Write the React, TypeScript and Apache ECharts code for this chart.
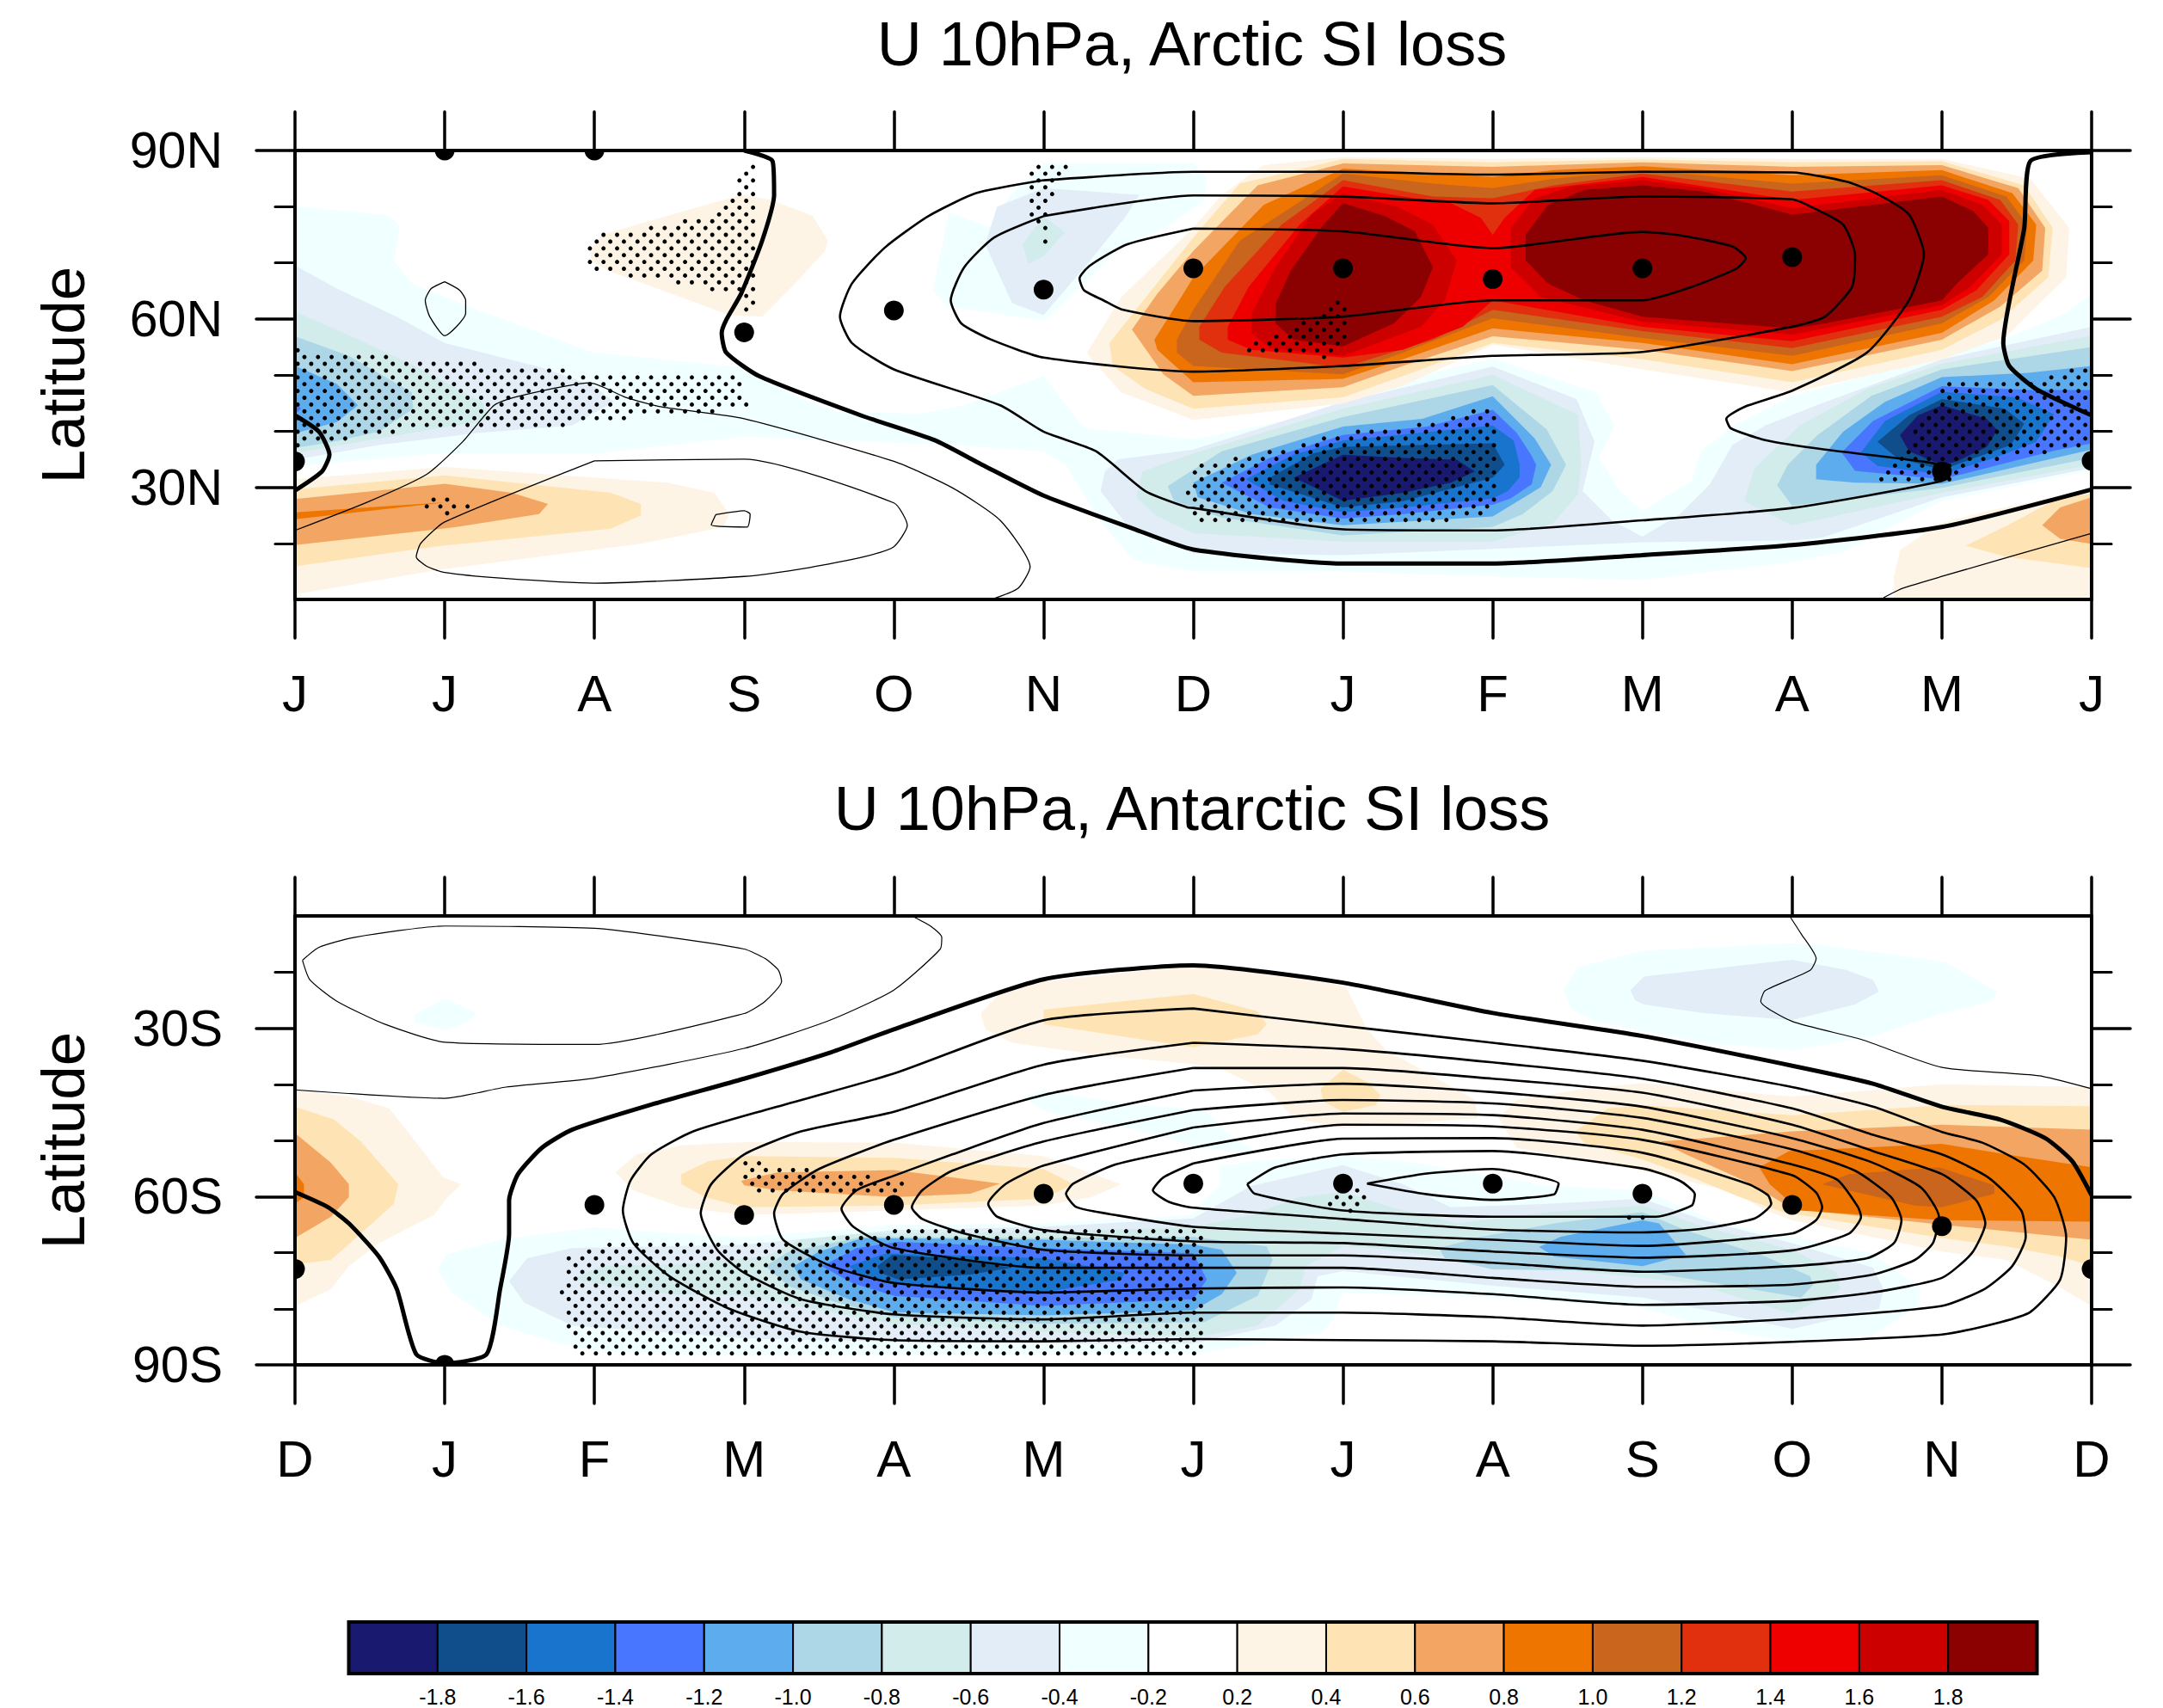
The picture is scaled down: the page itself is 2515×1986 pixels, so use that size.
import React, { useEffect, useRef } from "react";
import * as echarts from "echarts";

type Pt = number[];
type Poly = Pt[];

const FONT = "Liberation Sans";
const arcticMonths = ["J", "J", "A", "S", "O", "N", "D", "J", "F", "M", "A", "M", "J"];
const antarcticMonths = ["D", "J", "F", "M", "A", "M", "J", "J", "A", "S", "O", "N", "D"];
const colorbarLabels = ["-1.8", "-1.6", "-1.4", "-1.2", "-1.0", "-0.8", "-0.6", "-0.4", "-0.2", "0.2", "0.4", "0.6", "0.8", "1.0", "1.2", "1.4", "1.6", "1.8"];
const colorbarColors = ["#191970", "#104e8b", "#1874cd", "#4876ff", "#5cacee", "#add6e6", "#d1eceb", "#e2edf7", "#f0ffff", "#ffffff", "#fdf4e5", "#fee4b4", "#f3a563", "#ee7600", "#c9651d", "#e0300e", "#ee0000", "#cd0000", "#8b0000"];
const [N9, N8, N7, N6, N5, N4, N3, N2, N1, , P1, P2, P3, P4, P5, P6, P7, P8, P9] = colorbarColors;

// ---------- Arctic panel: shading polygons [month index, latitude]
const arcticN1: Poly[] = [
  [[0, 80], [0.62, 78.5], [0.7, 76.5], [0.66, 70.4], [0.78, 66.3], [1.16, 62.2], [1.99, 54], [3, 51.3], [3.38, 45.7], [3.62, 43.4], [4.19, 43.1], [4.47, 44.6], [5, 49.8], [5.27, 40.5], [6, 38.5], [7, 44], [7.56, 50.1], [8, 52.9], [8.69, 46.9], [8.81, 41], [8.71, 35.2], [8.85, 29.3], [9, 25.8], [9.33, 31.1], [9.39, 36.4], [9.61, 41], [10, 46.3], [11, 53.4], [11.41, 56.3], [11.83, 61], [12, 64.5], [12, 33], [11, 27.6], [10.78, 24.6], [10.34, 18.5], [10, 16.7], [9, 13.5], [8, 14.1], [7, 15], [6, 15], [5.6, 17], [5.39, 23.5], [5.15, 34], [5, 36.4], [4.39, 37.5], [3, 39], [2, 36], [0.96, 36], [0, 33.7]],
  [[4.64, 76.3], [4.78, 82.1], [5, 87.7], [6, 87.7], [6.09, 85.2], [6.07, 81], [5.8, 76], [5.52, 73], [5.01, 59.7], [4.36, 62.2], [4.26, 65.1], [4.37, 79]],
];
const arcticN2: Poly[] = [
  [[0, 69.5], [0.28, 65.4], [0.68, 60.4], [1, 55.7], [1.65, 51.3], [2, 48], [2.13, 45.2], [1.85, 41], [1.2, 39.6], [0.56, 37.5], [0, 34.9]],
  [[5.41, 32.8], [5.5, 35], [6, 36.7], [7, 45.2], [8, 51.5], [8.56, 45.7], [8.68, 38.1], [8.6, 29.3], [8.8, 24], [9, 21.2], [9.25, 25.2], [9.45, 30.5], [9.6, 37.5], [9.82, 41], [10.2, 45], [11, 52.8], [12, 58.6], [12, 33.4], [11, 28.2], [10.2, 21], [10, 20.5], [9, 20.2], [8, 19], [7, 17.9], [6, 18.2], [5.55, 23.5], [5.38, 29.3]],
  [[4.61, 73.3], [4.69, 80], [5, 83.3], [5.64, 82.1], [5.55, 78.3], [5.3, 70], [5, 60.7], [4.79, 62.8], [4.69, 68.6]],
];
const arcticN3: Poly[] = [
  [[0, 61.3], [0.4, 56.6], [0.8, 51.6], [1.25, 45.2], [1.3, 42], [0.76, 39.6], [0, 36.1]],
  [[4.86, 73.3], [5, 78.3], [5.14, 75.4], [5, 71.2], [4.9, 69.8]],
  [[5.62, 28.2], [5.66, 32.8], [6, 36], [7, 44], [8, 50], [8.57, 42.9], [8.59, 34], [8.57, 28.8], [8.4, 23.5], [8, 20.3], [7, 20.3], [6, 21.8], [5.75, 25]],
  [[11, 52], [12, 57], [12, 34], [11, 29], [10, 23.2], [9.68, 27.5], [9.75, 33.4], [10.05, 41], [10.5, 47.5]],
];
const arcticN4: Poly[] = [
  [[0, 56.9], [0.36, 53.4], [0.78, 46.9], [0.79, 44], [0.56, 39.9], [0.24, 38], [0, 37]],
  [[5.83, 30.2], [6.19, 36.4], [7, 42.5], [8, 48.2], [8.36, 40.3], [8.49, 34], [8.4, 29.3], [8.2, 25.2], [8, 22.9], [7, 21.4], [6.19, 24.6], [5.87, 27.6]],
  [[11, 51], [12, 55], [12, 35.2], [11, 29.9], [10, 26.7], [9.9, 30.3], [9.97, 34], [10.17, 39.3], [10.53, 46.3]],
];
const arcticN5: Poly[] = [
  [[0, 51.6], [0.28, 48.4], [0.42, 44.6], [0.28, 41.6], [0, 39.6]],
  [[6, 30.8], [6.39, 35.8], [7, 40.8], [7.53, 42.2], [8, 46.2], [8.28, 38.7], [8.39, 34], [8.32, 30], [8, 24.8], [7, 23.2], [6.39, 25.2], [6.03, 28.2]],
  [[11, 49.6], [11.58, 50.4], [12, 51.6], [12, 36.7], [11, 30.6], [10.42, 30.8], [10.16, 31.4], [10.16, 34], [10.34, 39.9], [10.62, 45.2]],
];
const arcticN6: Poly[] = [
  [[0, 45.5], [0.04, 44], [0, 43]],
  [[6.19, 30.8], [6.51, 35.2], [7, 39.3], [7.56, 40.8], [8, 43.8], [8.16, 39.7], [8.26, 35.6], [8.29, 34], [8.26, 30.5], [8.12, 28], [8, 26.9], [7.4, 25.2], [7, 24.4], [6.51, 26.4]],
  [[11, 48], [11.58, 47.3], [12, 47.3], [12, 37.8], [11.75, 36.5], [11, 31.4], [10.42, 32.9], [10.33, 36.2], [10.54, 41.8]],
];
const arcticN7: Poly[] = [
  [[6.35, 31.4], [6.67, 35.8], [7, 38.3], [8, 41], [8.14, 38.3], [8.18, 34], [8.18, 31.8], [8.1, 29.3], [8, 28], [7.4, 26.4], [7, 25.5], [6.6, 27.6]],
  [[11, 47], [11.5, 46], [11.75, 43], [11.63, 38.1], [11.35, 35.2], [11, 32.3], [10.57, 33.8], [10.46, 36.2], [10.62, 41.8]],
];
const arcticN8: Poly[] = [
  [[6.51, 31.7], [6.8, 36], [7, 37.2], [8, 37.8], [8.08, 34], [8, 31.7], [7.4, 27.5], [7, 26.4], [6.51, 30.5]],
  [[11, 45.7], [11.42, 44], [11.55, 41.3], [11.46, 37.5], [11.22, 35.2], [11, 33.1], [10.7, 35.2], [10.57, 38.1], [10.78, 42.8]],
];
const arcticN9: Poly[] = [
  [[6.67, 31.7], [7, 35.8], [7.4, 35.2], [7.76, 34.9], [7.88, 32.8], [7.72, 30.8], [7.4, 29], [7, 27.6]],
  [[11, 44.6], [11.3, 42.2], [11.37, 40.2], [11.3, 37.2], [11.1, 34.6], [11, 34], [10.78, 36.4], [10.72, 39.3], [10.84, 42.8]],
];
const arcticP1: Poly[] = [
  [[0, 31.4], [1, 33.6], [2.49, 30.8], [2.8, 29], [2.9, 25.2], [2.86, 22.9], [2.33, 20], [0.96, 15.3], [0, 10.9]],
  [[1.97, 72.1], [2.05, 75], [2.98, 82.1], [3.18, 81.2], [3.46, 78.3], [3.56, 73.9], [3.54, 72.1], [3.34, 66.3], [3.12, 60.4], [2.9, 60.7], [2.09, 68.6], [1.98, 70.4]],
  [[7, 88.8], [8, 88.5], [9, 88.8], [10, 88.5], [11, 88.5], [11.59, 85], [11.85, 76.2], [11.83, 67.4], [11.43, 56.9], [11, 52.8], [10, 46.9], [9, 51], [8, 55.4], [7.4, 48.1], [7, 44.9], [6, 42], [5.52, 46.9], [5.32, 52.8], [5.29, 54], [5.52, 63.9], [6, 76.2], [6.19, 82.1], [6.47, 87.4]],
  [[10.68, 10], [10.68, 14.1], [10.72, 18.8], [10.98, 23.5], [11.31, 25.8], [11.75, 28.2], [12, 29], [12, 10]],
];
const arcticP2: Poly[] = [
  [[0, 29.6], [1, 32.1], [2.11, 29], [2.31, 27], [2.31, 25], [2.11, 22.6], [0.96, 19.5], [0, 15.9]],
  [[7, 88.5], [8, 87.9], [9, 88.4], [10, 87.9], [11, 88.1], [11.55, 83.8], [11.74, 76.2], [11.71, 67.4], [11.39, 59.8], [11, 54.5], [10, 48.7], [9, 52.8], [8, 55.7], [7.4, 49.8], [7, 46], [6, 44], [5.68, 47.5], [5.46, 51.6], [5.44, 55.7], [5.72, 65.1], [6, 74.5], [6.31, 84.1]],
  [[11.16, 19.6], [11.43, 23.1], [11.79, 28.2], [12, 28.9], [12, 15.6], [11.43, 17.6]],
];
const arcticP3: Poly[] = [
  [[0, 27.9], [1, 30.6], [1.45, 29], [1.69, 27], [1.63, 25.2], [1.08, 22.9], [0, 19.7]],
  [[7, 87.7], [8, 87.1], [9, 87.9], [10, 87.1], [11, 87.4], [11.51, 83.3], [11.69, 76.2], [11.67, 68.6], [11.39, 62.2], [11, 56.3], [10, 50.7], [9, 54.5], [8, 56.9], [7.4, 51.6], [7, 47.8], [6, 46.3], [5.8, 50.1], [5.59, 58.1], [5.76, 64.5], [6, 72.1], [6.43, 83.8]],
  [[11.67, 23.2], [11.79, 26.4], [12, 28.2], [12, 19.9], [11.79, 20.8]],
];
const arcticP4: Poly[] = [
  [[0, 25.5], [1, 27.3], [0, 24.3]],
  [[7, 86.8], [7.6, 85.9], [8, 85.3], [8.41, 86.5], [9, 87.2], [10, 85.6], [11, 86.5], [11.47, 82.4], [11.63, 76.8], [11.61, 70.4], [11.35, 63.3], [11, 57.5], [10, 51.9], [9, 55.7], [8, 58.3], [7.4, 52.8], [7, 49.3], [6, 48.7], [5.76, 54.5], [5.74, 56.3], [5.92, 63.9], [6, 67.4], [6.47, 80.3]],
];
const arcticP5: Poly[] = [[[7, 85.9], [7.6, 84.1], [8, 83.3], [8.41, 85], [9, 86.5], [10, 84.1], [11, 85.6], [11.43, 81.8], [11.57, 76.8], [11.55, 70.4], [11.31, 63.9], [11, 59.2], [10, 53.4], [9, 56.6], [8, 60.1], [7.4, 54], [7, 50.1], [6, 51.6], [5.89, 54], [5.89, 56.3], [6, 61.6], [6.31, 73.9]]];
const arcticP6: Poly[] = [[[7, 84.7], [7.6, 81.8], [8, 81.5], [8.41, 83.8], [9, 85.9], [10, 82.7], [11, 84.7], [11.39, 81.2], [11.51, 76.8], [11.49, 70.4], [11.27, 63.9], [11, 60.4], [10, 54.8], [9, 57.8], [8, 61.6], [7.6, 56.3], [7, 51.3], [6.19, 54], [6.04, 56.3], [6.04, 58.6], [6.21, 65.7], [6.59, 76.8]]];
const arcticP7: Poly[] = [[[7, 83.6], [7.4, 81.8], [7.72, 80.6], [7.92, 78], [8, 75], [8.08, 78], [8.28, 83], [9, 85.3], [10, 81.2], [11, 83.8], [11.31, 81.2], [11.45, 77.4], [11.45, 71.5], [11.23, 65.1], [11, 61.6], [10, 56], [9, 58.6], [8, 63.3], [7.8, 58.6], [7.4, 54.5], [7, 53.1], [6.39, 54.5], [6.23, 56.3], [6.23, 58.6], [6.37, 65.7], [6.71, 76.8]]];
const arcticP8: Poly[] = [
  [[7, 82.4], [7.36, 80], [7.6, 76.8], [7.76, 70.4], [7.68, 63.3], [7.52, 58.6], [7, 53.4], [6.51, 54.8], [6.39, 57.5], [6.39, 61], [6.55, 69.2], [6.79, 78.6]],
  [[9, 84.7], [8.53, 83.6], [8.28, 81.5], [8.12, 76.2], [8.12, 69.2], [8.32, 63.9], [9, 59.5], [10, 57.2], [11, 62.4], [11.19, 65.7], [11.4, 71.5], [11.4, 76.8], [11.27, 80.3], [11, 83], [10, 79.7], [9.41, 83.3]],
];
const arcticP9: Poly[] = [
  [[7, 80.6], [7.28, 78.3], [7.48, 75.6], [7.6, 69.2], [7.52, 63.9], [7.34, 59.2], [7, 55.1], [6.67, 56.3], [6.55, 59.2], [6.55, 62.7], [6.65, 68.6], [6.87, 76.8]],
  [[9, 83.8], [8.61, 83], [8.37, 80.3], [8.22, 75], [8.22, 70.4], [8.37, 66.3], [8.61, 63.3], [9, 60.4], [10, 58.3], [10.22, 59.2], [11, 63.3], [11.1, 66.3], [11.31, 71.5], [11.31, 76.2], [11.21, 79.2], [11, 81.8], [10, 78.6], [9.41, 82.7]],
];

// ---------- Antarctic panel: shading polygons
const antN1: Poly[] = [
  [[0.95, -73], [1.01, -70.4], [1.37, -67.7], [2, -65.5], [2.54, -66.6], [3, -67.2], [3.58, -66], [4, -65.1], [5, -64.8], [6, -63.3], [6.03, -61.9], [6.18, -57.8], [6.17, -54.8], [6.39, -53.7], [7, -52.8], [7.48, -54], [8.37, -58.1], [9, -58.9], [9.53, -64.8], [10, -67.2], [10.54, -70.1], [10.86, -76.5], [10.84, -79.5], [10.54, -84.7], [10, -85.9], [9.49, -83.6], [9, -79.8], [8, -78], [7, -77.1], [6.93, -81.8], [6.87, -84.1], [6.43, -86.2], [6, -88], [4, -88.3], [2.66, -88.3], [1.97, -87.4], [1.77, -86.2], [1.37, -83], [1.05, -77.1]],
  [[4.86, -42.2], [5, -41.1], [5.6, -43.7], [6, -44.4], [6.09, -44.9], [6.21, -48.4], [6.45, -52.5], [6.03, -51.3], [5.79, -49.3], [5.6, -48], [5, -44.7]],
  [[1, -24.7], [1.21, -27.3], [1.15, -29], [1, -30.3], [0.8, -29], [0.8, -27.6]],
  [[8.47, -23.2], [8.57, -19.1], [9.01, -16.2], [10, -14.9], [10.22, -15.3], [11.02, -18.2], [11.37, -23.5], [11.33, -25.2], [11, -27.3], [10.54, -31.4], [10, -33.9], [9.41, -32.6], [8.69, -28.8], [8.53, -26.7]],
];
const antN2: Poly[] = [
  [[1.43, -75.1], [1.55, -71], [1.85, -69.2], [3, -68.6], [4, -66], [5, -65.4], [6, -63.9], [6.39, -58.1], [7, -54.4], [7.4, -57.8], [7.72, -61.9], [8.37, -61.3], [9, -60.4], [9.41, -64.2], [10, -68.3], [10.54, -72.7], [10.61, -76.5], [10.58, -80], [10, -83.6], [9.49, -80.6], [9, -78], [8, -75.9], [7, -73.3], [6.83, -74.2], [6.79, -78.3], [6.55, -83], [6, -86.2], [5, -86.2], [4, -85.9], [3, -85.3], [1.85, -83], [1.53, -78.9]],
  [[8.92, -23.2], [9.01, -20.8], [10, -17.8], [10.36, -19.6], [10.54, -21.4], [10.58, -23.5], [10.42, -25.8], [10, -28.6], [9.41, -27.3], [9.01, -25.8], [8.95, -25]],
];
const antN3: Poly[] = [[[1.85, -74.8], [2.05, -72.4], [2.58, -72.1], [3.14, -70.7], [3.38, -67.7], [3.79, -66.6], [5, -66.3], [6, -65.4], [6.39, -63.3], [6.71, -60.1], [7, -59.2], [7.32, -61.9], [7.76, -64.8], [8.37, -62.8], [9, -61.6], [9.41, -65.4], [10, -69.5], [10.3, -73.6], [10.32, -76.5], [10, -80.9], [9.33, -75.4], [9, -74.5], [8, -71.8], [7.2, -69.2], [7, -68.9], [6.75, -72.4], [6.71, -76.5], [6.43, -83], [6.03, -85], [5, -84.1], [4, -82.7], [3, -77.7], [2.5, -77.4]]];
const antN4: Poly[] = [
  [[3.14, -72.4], [3.3, -69.8], [3.79, -67.2], [5, -67.4], [6, -67.2], [6.49, -68.9], [6.53, -71.3], [6.43, -77.7], [6.07, -82.4], [5, -82.7], [4, -81.5], [3.62, -78.9], [3.3, -76]],
  [[7.64, -69.2], [7.92, -67.2], [8.41, -64.8], [9, -62.8], [9.29, -66], [9.82, -70.7], [10.12, -74.2], [10.14, -75.7], [10.06, -78], [9.41, -75.1], [9, -73.3], [8, -73], [7.68, -71]],
];
const antN5: Poly[] = [
  [[3.33, -72.4], [3.5, -69.8], [3.79, -67.4], [5, -67.7], [6, -68.6], [6.19, -69.5], [6.29, -73.6], [6.19, -77.4], [6, -80.3], [5, -81.2], [4, -80.6], [3.7, -78.3], [3.38, -74.8]],
  [[8.31, -69], [8.45, -67.2], [9, -64.2], [9.11, -64.8], [9.29, -70.4], [9, -72.4], [8.41, -70.7]],
];
const antN6: Poly[] = [[[3.52, -72.4], [3.75, -69.2], [4.03, -68.1], [5, -69.2], [6, -70.1], [6.09, -74.8], [6, -78.3], [5, -79.5], [4, -77.7], [3.72, -75.4]]];
const antN7: Poly[] = [[[3.7, -72.4], [3.95, -70.1], [5, -71], [5.54, -73.6], [5.52, -74.8], [5, -77.1], [4, -75.7], [3.79, -74.2]]];
const antN8: Poly[] = [[[3.89, -72.4], [3.99, -70.4], [4.35, -71], [4.79, -72.7], [4.51, -73.9], [4.03, -74.8], [3.91, -73.6]]];
const antP1: Poly[] = [
  [[0, -41.1], [0.36, -42.2], [0.63, -44.3], [0.77, -49], [0.99, -56.6], [1.11, -57.8], [1.01, -60.4], [0.93, -63.3], [0.56, -68.3], [0.36, -72.4], [0.24, -76.5], [0, -79.5]],
  [[2.14, -55.7], [2.28, -52.5], [2.58, -50.9], [3, -50.3], [4, -50.4], [5, -52.8], [5.52, -57.8], [5.32, -60.1], [5, -61.6], [4, -62.5], [3, -63.3], [2.58, -61.9], [2.26, -58.9]],
  [[4.58, -27.3], [4.71, -23.8], [5, -21.7], [6, -18.8], [6.79, -21.4], [7.02, -22.6], [7.16, -30.2], [7.28, -33.7], [7.88, -42.8], [7.9, -46], [7, -47.8], [6.67, -46], [6.51, -41.4], [6.19, -37.3], [6, -36.4], [5.4, -34.9], [4.79, -32.6], [4.61, -30.2]],
  [[8.04, -46], [8.16, -42.8], [8.61, -40.8], [9, -39.8], [10, -42.2], [11, -40], [12, -40.5], [12, -79.5], [11.79, -76.2], [11.43, -71.3], [11, -69.8], [10, -64.2], [9.82, -62.5], [9.61, -59.2], [9, -55.4], [8.16, -51.3]],
];
const antP2: Poly[] = [
  [[0, -44], [0.26, -46.3], [0.44, -50.2], [0.69, -57.8], [0.66, -61.3], [0.44, -66.6], [0.24, -71.3], [0, -72.1]],
  [[2.58, -56], [2.76, -53.7], [3, -52.8], [4, -53.1], [5, -55.1], [5.2, -57.8], [5, -60.4], [4, -61.6], [3, -61.9], [2.74, -60.1], [2.58, -57.8]],
  [[5, -26.7], [6, -23.9], [6.43, -27], [6.49, -29.3], [6.43, -31.1], [6, -33.4], [5, -29.3]],
  [[6.85, -40.8], [7, -37.4], [7.16, -39.6], [7.25, -41.9], [7.22, -43.7], [7, -44.9], [6.87, -43.1]],
  [[8.55, -48.4], [8.77, -44.3], [9, -43.7], [10, -45.5], [11, -43.7], [12, -43.9], [12, -72.4], [11.79, -70.7], [11.43, -68.9], [11, -67.4], [9.94, -62.8], [9.65, -60.1], [9.33, -56.6], [9, -53.4], [8.61, -50.4]],
];
const antP3: Poly[] = [
  [[0, -48.7], [0.24, -54], [0.36, -57.8], [0.36, -60.1], [0.24, -63.6], [0, -67.4]],
  [[2.98, -57.2], [3.22, -55.7], [4, -55.3], [4.39, -56.6], [4.71, -57.7], [4.51, -59.5], [4, -60.1], [3.22, -58.9], [3, -58]],
  [[9.12, -50.2], [10, -48.4], [11, -47.2], [12, -48.1], [12, -67.7], [11, -65], [10, -62.2], [9.73, -57.8], [9.29, -52.5]],
];
const antP4: Poly[] = [
  [[0, -55.7], [0.06, -57.8], [0.06, -60.1], [0, -61.3]],
  [[9.78, -54.8], [9.98, -51.9], [11, -50.6], [11.43, -52.5], [12, -54.8], [12, -64.5], [11, -64.2], [10.05, -62.5], [9.85, -57.8]],
];
const antP5: Poly[] = [[[10.2, -57.8], [10.38, -56], [10.98, -54.8], [11.35, -58], [11.35, -59.5], [11, -61.9], [10.82, -61.6], [10.34, -58.7]]];

// ---------- Arctic contour lines
const arcticZero: Poly[] = [
  [[3, 90], [3.19, 88.1], [3.2, 82.1], [3.12, 73.9], [2.98, 64.5], [2.88, 59.8], [2.85, 57.5], [2.88, 54], [3.1, 49.8], [3.78, 42.8], [4.27, 38.4], [4.59, 34], [5, 28.5], [5.6, 22.6], [6, 18.9], [7, 16.4], [8, 16.4], [9, 17.9], [10, 19.7], [11, 22.9], [12, 29.6]],
  [[0, 42.8], [0.16, 39.9], [0.23, 35.8], [0.18, 32.8], [0, 29.4]],
  [[12, 89.7], [11.59, 88.1], [11.55, 76.2], [11.41, 55.7], [11.45, 51.6], [11.63, 47.5], [12, 42.8]],
];
const arcticPos: Poly[] = [
  [[5, 84.7], [4.55, 82.4], [4.23, 78.3], [3.94, 72.7], [3.72, 66.3], [3.64, 60.4], [3.72, 55.7], [4, 51], [4.71, 44.6], [5, 39.9], [5.35, 36.4], [5.68, 29.3], [5.96, 26.4], [6, 26.3], [7, 22.5], [8, 22.3], [9, 24.1], [10, 26.3], [11, 31.1], [11.02, 32.8], [10.94, 34.3], [10.22, 36.7], [9.82, 38.4], [9.59, 40.5], [9.56, 42.2], [9.68, 44.3], [10, 47.2], [10.5, 54], [10.78, 63.3], [10.88, 71.5], [10.78, 78.6], [10.58, 82.1], [10.37, 84.4], [10, 86.1], [9, 86.2], [8, 85.7], [7, 86.2], [6, 86.2], [5, 84.7]],
  [[5, 78.3], [4.67, 74.5], [4.47, 69.2], [4.38, 63.3], [4.45, 59.2], [4.65, 56.3], [5, 53.1], [6, 50.6], [7, 51.6], [8, 53.4], [9, 54.1], [10, 58.6], [10.22, 60.4], [10.4, 65.7], [10.42, 71.3], [10.34, 76.8], [10.14, 79.8], [10, 81.3], [9, 81.8], [8, 80.6], [7, 81.8], [6, 82], [5, 78.3]],
  [[6, 76.1], [7, 75.6], [8, 72.6], [9, 75.5], [9.27, 74.8], [9.6, 72.9], [9.69, 70.8], [9.63, 69], [9.33, 65.7], [9, 63.3], [8, 63.3], [7, 60.4], [6, 59.6], [5.52, 61.7], [5.4, 63.3], [5.27, 65.1], [5.24, 67.2], [5.31, 69.5], [5.56, 73.3], [6, 76.1]],
];
const arcticNeg: Poly[] = [
  [[1, 66.6], [1.1, 65.1], [1.14, 63.3], [1.14, 61], [1, 57], [0.9, 60.4], [0.87, 63.3], [0.91, 65.4], [1, 66.6]],
  [[0, 22.3], [0.48, 27.3], [0.88, 32.3], [1.12, 38.1], [1.33, 44.6], [1.49, 46.2], [1.97, 48.6], [2.21, 46], [2.45, 44.3], [3, 42.2], [4, 34.6], [4.39, 29.9], [4.71, 24.1], [4.91, 15.8], [4.83, 12], [4.65, 10]],
  [[2, 34.7], [3, 35], [4, 27.2], [4.09, 23.2], [4, 19.4], [3.8, 17.6], [3.44, 15.7], [3, 14.1], [2, 12.9], [1.37, 13.8], [1, 14.8], [0.88, 15.9], [0.81, 17.6], [0.84, 20], [1, 23.8], [2, 34.7]],
  [[2.81, 25.1], [3, 25.8], [3.04, 25.2], [3.02, 22.9], [2.78, 23.3], [2.81, 25.1]],
  [[10.61, 10.3], [10.74, 12], [11, 14.1], [12, 21.8]],
];

// ---------- Antarctic contour lines
const antZero: Poly[] = [[[0, -59.2], [0.22, -61.9], [0.36, -64.8], [0.56, -70.7], [0.68, -76.5], [0.81, -88.1], [1, -89.7], [1.28, -88.1], [1.37, -76.5], [1.43, -66.6], [1.43, -60.7], [1.49, -56], [1.65, -51.3], [1.85, -48.1], [2.37, -43.7], [3, -39], [3.58, -34.3], [4, -30.2], [5, -21.3], [6, -18.8], [7, -21.9], [8, -27.3], [9, -31.4], [10, -36.7], [10.54, -39.9], [11, -44], [11.39, -46.3], [11.69, -49.6], [11.87, -53.7], [12, -59.8]]];
const antLoop1 = [[6, -26.5], [5, -28.6], [4, -38.1], [3.18, -44.3], [2.66, -48.4], [2.38, -52.5], [2.24, -57.2], [2.19, -62.5], [2.26, -68.3], [2.5, -74.2], [2.9, -80], [3.38, -84.1], [4, -85.6], [5, -85.8], [6, -85.4], [7, -85.6], [8, -85.8], [9, -86.6], [10, -85.9], [11, -84.6], [11.39, -82.4], [11.59, -80.6], [11.79, -74.8], [11.83, -67.2], [11.75, -60.1], [11.55, -54.3], [11.27, -50.4], [11, -48.5], [10.54, -44], [10, -40.5], [9, -35.8], [8, -32.6], [7, -29.6], [6, -26.5]];
const antLoop2 = [[6, -32.6], [5, -36.5], [4, -44.9], [3.38, -48.4], [3, -52.5], [2.78, -57.8], [2.71, -63], [2.82, -69.5], [3, -73.6], [3.38, -78.3], [4, -81], [5, -81.9], [6, -80.7], [7, -80.7], [8, -81.5], [9, -83], [10, -81.8], [11, -79.5], [11.29, -76.4], [11.47, -72.4], [11.56, -67.2], [11.53, -62.5], [11.31, -56.6], [11, -52.5], [10.54, -49], [10, -44.3], [9, -39], [8, -36.1], [7, -33.7], [6, -32.6]];
const antLoop3 = [[6, -37.1], [5, -41.9], [4, -49.9], [3.5, -55.1], [3.26, -59.5], [3.2, -63], [3.26, -67.7], [3.58, -72.4], [4, -75.4], [5, -77.1], [6, -76.4], [7, -76.2], [8, -77.4], [9, -79.3], [10, -78.6], [10.54, -77.1], [11, -74.5], [11.2, -70.1], [11.29, -64.8], [11.23, -60.7], [11, -56], [10.54, -51.9], [10, -47.2], [9, -41.5], [8, -39], [7, -37.1], [6, -37.1]];
const antLoop4 = [[6, -41.1], [5, -46.9], [4.39, -52.5], [4, -56.3], [3.75, -58.9], [3.65, -62.2], [3.73, -65.4], [4, -69.2], [5, -72.7], [6, -72.7], [7, -72.7], [8, -74.5], [9, -76.1], [10, -75.7], [10.54, -73.9], [10.82, -71.3], [10.94, -68.3], [10.98, -63.6], [10.86, -58.4], [10.54, -54], [10, -49.6], [9, -44], [8, -41.4], [7, -39.9], [6, -41.1]];
const antLoop5 = [[6, -44.6], [5, -50.2], [4.39, -55.4], [4.19, -58.9], [4.12, -61.9], [4.19, -64], [4.47, -66.6], [5, -69.5], [6, -70.5], [7, -70.5], [8, -71.8], [9, -73.4], [10, -72.4], [10.5, -71], [10.68, -68.3], [10.73, -64.2], [10.66, -60.1], [10.42, -55.4], [10, -51.6], [9, -46], [8, -43.4], [7, -42.8], [6, -44.6]];
const antLoop6 = [[6, -47.7], [5, -54.5], [4.75, -57.7], [4.63, -61.3], [4.69, -63.6], [5, -66], [6, -68], [7, -68.3], [8, -69.8], [9, -70.9], [10, -69.6], [10.38, -66.6], [10.46, -63.6], [10.44, -61.9], [10.3, -57], [10, -54.3], [9, -48.1], [8, -45.5], [7, -45.2], [6, -47.7]];
const antLoop7 = [[6, -51.3], [5.48, -54.3], [5.2, -57.7], [5.15, -59.5], [5.22, -61.9], [5.48, -63.3], [6, -65.4], [7, -66.6], [8, -67.7], [9, -68.8], [10, -66.6], [10.16, -64.2], [10.2, -61.9], [10.16, -59.3], [10, -56.2], [9, -49.9], [8, -47.5], [7, -47.2], [6, -51.3]];
const antLoop8 = [[6, -54.1], [5.8, -56.6], [5.73, -58.9], [5.84, -61], [6, -62], [7, -64], [8, -65.9], [9, -66.4], [9.41, -65.7], [9.75, -63.9], [9.86, -61.3], [9.84, -59.8], [9.71, -57.8], [9, -52.2], [8, -49.6], [7, -49.7], [6, -54.1]];
const antLoop9 = [[6.36, -57.8], [6.55, -54.8], [7, -52.5], [8, -51.9], [9, -55], [9.25, -57.2], [9.35, -59.6], [9.33, -61.6], [9.09, -63.6], [8, -63.6], [7, -62.5], [6.41, -59.5], [6.36, -57.8]];
const antLoop10 = [[7.16, -57.7], [7.56, -55.9], [8, -55.1], [8.22, -56], [8.44, -57.7], [8.41, -59.6], [8, -60.6], [7.56, -59.6], [7.16, -57.7]];
const antPos: Poly[] = [antLoop1, antLoop2, antLoop3, antLoop4, antLoop5, antLoop6, antLoop7, antLoop8, antLoop9, antLoop10];
const antNeg: Poly[] = [
  [[0.05, -17.9], [0.16, -15.6], [0.4, -13.8], [1, -11.8], [2, -12.2], [2.5, -13.8], [3, -15.9], [3.14, -17.6], [3.23, -19.7], [3.25, -21.7], [3.14, -25.2], [3, -27.4], [2, -32.9], [1, -32.5], [0.6, -29.3], [0.28, -25.2], [0.1, -21.4], [0.05, -17.9]],
  [[0, -41], [1, -42.5], [1.41, -40.5], [2, -38.9], [3, -33.6], [3.58, -28.5], [4, -23.2], [4.31, -15.9], [4.32, -13.8], [4.25, -11.9], [4.12, -10]],
  [[9.99, -10.3], [10.06, -13.2], [10.16, -17.6], [10.12, -19.7], [9.82, -23.3], [9.79, -25.2], [10, -28.8], [10.46, -32], [11, -37], [11.65, -38.5], [12, -40.8]],
];

// ---------- Large markers (latitude of the jet per month)
const arcticMarkerLat = [34.6, 90, 90, 57.6, 61.5, 65.2, 69, 69, 67.1, 69, 71, 32.8, 34.7];
const antMarkerLat = [-72.9, -90, -61.5, -63.3, -61.5, -59.5, -57.7, -57.7, -57.7, -59.5, -61.5, -65.3, -72.9];

// ---------- Significance stippling regions
const arcticStipple: Poly[] = [
  [[0, 54.5], [0.6, 53.4], [1.2, 52.1], [1.77, 50.8], [2.98, 49.8], [3.02, 44.6], [2.78, 43.4], [2.21, 42.2], [1.77, 41], [0.72, 39.9], [0.34, 38.7], [0.12, 37.5], [0, 37.2]],
  [[1.95, 72.7], [2.05, 75], [2.37, 76.2], [2.57, 77.4], [2.82, 78.6], [2.94, 81.5], [2.96, 84.7], [3.06, 87.4], [3.08, 79.7], [3.08, 62.7], [3.02, 61.3], [2.94, 64.5], [2.78, 65.1], [2.21, 67.7], [1.97, 69.2]],
  [[4.91, 87.1], [5.15, 87.1], [5.19, 85.9], [5.09, 83.3], [5.03, 78.6], [5.01, 71.2], [4.97, 76.2], [4.9, 78.6], [4.9, 86.2]],
  [[0.82, 25.5], [0.92, 27.9], [1.1, 27.9], [1.16, 26.7], [1.1, 25.2]],
  [[5.95, 29.3], [5.99, 34], [6.31, 35.2], [7.08, 40.2], [7.56, 41.3], [8, 44.5], [8.06, 35.2], [8, 25.2], [7.76, 24.1], [7.18, 23], [6.45, 23.2], [6.03, 24], [5.97, 27]],
  [[10.56, 31.4], [10.96, 44.6], [10.98, 48.7], [11.63, 49.3], [11.95, 52.2], [12, 52.8], [12, 37.5], [11.35, 34.9], [11.02, 30.8], [10.8, 30.2]],
  [[6.35, 54.4], [6.39, 55.7], [6.53, 56.9], [6.71, 59.2], [6.87, 60.4], [6.97, 64.2], [7.01, 63.3], [7.04, 59.2], [7, 54.5], [6.96, 53.1], [6.86, 53.1]],
];
const antStipple: Poly[] = [
  [[1.77, -76.8], [1.81, -71], [2.11, -68.3], [3.22, -68.3], [3.99, -66], [6.09, -65.9], [6.09, -88.5], [1.91, -88.5], [1.83, -85.3]],
  [[2.98, -57.8], [3, -54], [3.12, -54], [3.44, -55.1], [4.07, -57.2], [4.11, -59.8], [3.79, -60.1], [3.11, -59.2]],
  [[6.89, -61.3], [6.95, -58.7], [7.14, -58.7], [7.18, -61.3], [7.04, -62.8]],
  [[8.87, -63.6], [9.02, -63.6], [9.02, -64.3], [8.87, -64.3]],
];
const stippleStepMonth = 0.0908;
const stippleStepLat = 1.21;
const arcticStippleAnchor = [0.063, 53.2];
const antStippleAnchor = [2.01, -68.6];

function inside(p: Pt, poly: Poly) {
  let c = false;
  for (let i = 0, j = poly.length - 1; i < poly.length; j = i++) {
    const a = poly[i], b = poly[j];
    if (a[1] > p[1] !== b[1] > p[1] && p[0] < ((b[0] - a[0]) * (p[1] - a[1])) / (b[1] - a[1]) + a[0]) c = !c;
  }
  return c;
}
function lattice(regions: Poly[], anchor: Pt) {
  const out: Pt[] = [];
  for (let j = -75; j <= 75; j++) {
    const lat = anchor[1] + j * stippleStepLat;
    const off = Math.abs(j) % 2 ? stippleStepMonth / 2 : 0;
    for (let k = -40; k <= 160; k++) {
      const m = anchor[0] + off + k * stippleStepMonth;
      const p = [m, lat];
      if (regions.some((r) => inside(p, r))) out.push(p);
    }
  }
  return out;
}

function fillSeries(table: [string, Poly[]][], xAxisIndex: number, yAxisIndex: number) {
  const flat: { c: string; p: Poly }[] = [];
  table.forEach(([c, polys]) => polys.forEach((p) => flat.push({ c, p })));
  return {
    type: "custom",
    xAxisIndex,
    yAxisIndex,
    z: 2,
    clip: true,
    silent: true,
    data: flat.map((_, i) => [i, 0]),
    renderItem: (params: any, api: any) => {
      const f = flat[params.dataIndex];
      return {
        type: "polygon",
        shape: { points: f.p.map((q) => api.coord(q)) },
        style: { fill: f.c, stroke: null },
      };
    },
  };
}
function lineSeries(lines: Poly[], width: number, smooth: number, xAxisIndex: number, yAxisIndex: number) {
  return lines.map((data) => ({
    type: "line",
    xAxisIndex,
    yAxisIndex,
    z: 4,
    data,
    symbol: "none",
    silent: true,
    clip: true,
    smooth,
    lineStyle: { color: "#000", width, join: "round" },
  }));
}
function panelSeries(fills: [string, Poly[]][], zero: Poly[], pos: Poly[], neg: Poly[], negWidth: number, stipple: Pt[], markers: number[], xi: number, yi: number) {
  return [
    fillSeries(fills, xi, yi),
    {
      type: "scatter", xAxisIndex: xi, yAxisIndex: yi, z: 3, silent: true, clip: true,
      symbol: "circle", symbolSize: 5, itemStyle: { color: "#000", opacity: 1 }, data: stipple,
    },
    ...lineSeries(neg, negWidth, 0.2, xi, yi),
    ...lineSeries(pos, 2.6, 0.2, xi, yi),
    ...lineSeries(zero, 5, 0.2, xi, yi),
    {
      type: "custom", xAxisIndex: xi, yAxisIndex: yi, z: 5, silent: true, clip: true,
      data: markers.map((lat, i) => [i, lat]),
      renderItem: (params: any, api: any) => {
        const c = api.coord([params.dataIndex, markers[params.dataIndex]]);
        return { type: "circle", shape: { cx: c[0], cy: c[1], r: 11.5 }, style: { fill: "#000" } };
      },
    },
  ];
}

function xAxes(gridIndex: number, months: string[]) {
  const common = {
    gridIndex, type: "value", min: 0, max: 12, interval: 1, z: 10, splitLine: { show: false },
    axisLine: { show: true, onZero: false, lineStyle: { color: "#000", width: 4, cap: "round" } },
    axisTick: { show: true, length: 45, lineStyle: { color: "#000", width: 3.5, cap: "round" } },
  };
  return [
    {
      ...common, position: "bottom",
      axisLabel: { show: true, margin: 79, color: "#000", fontFamily: FONT, fontSize: 60, hideOverlap: false, showMinLabel: true, showMaxLabel: true, formatter: (v: number) => months[Math.round(v)] },
    },
    { ...common, position: "top", axisLabel: { show: false } },
  ];
}
function yAxes(gridIndex: number, min: number, max: number, major: number[], minor: number[]) {
  const mk = (position: string, values: number[], length: number, w: number, labelled: boolean) => ({
    gridIndex, type: "value", min, max, interval: 10, position, z: 10, splitLine: { show: false },
    axisLine: { show: true, onZero: false, lineStyle: { color: "#000", width: 4, cap: "round" } },
    axisTick: { show: true, length, customValues: values, lineStyle: { color: "#000", width: w, cap: "round" } },
    axisLabel: labelled
      ? { show: true, customValues: major, margin: 84, color: "#000", fontFamily: FONT, fontSize: 59, formatter: (v: number) => (v >= 0 ? `${v}N` : `${-v}S`) }
      : { show: false },
    ...(labelled ? { name: "Latitude", nameLocation: "middle", nameRotate: 90, nameGap: 234, nameTextStyle: { color: "#000", fontFamily: FONT, fontSize: 71 } } : {}),
  });
  return [mk("left", major, 45, 3.5, true), mk("left", minor, 23, 3, false), mk("right", major, 45, 3.5, false), mk("right", minor, 23, 3, false)];
}

export default function App() {
  const ref = useRef<HTMLDivElement>(null);
  useEffect(() => {
    document.body.style.margin = "0";
    const chart = echarts.init(ref.current!, undefined, { renderer: "svg" });
    const arcticFills: [string, Poly[]][] = [
      [N1, arcticN1], [N2, arcticN2], [N3, arcticN3], [N4, arcticN4], [N5, arcticN5], [N6, arcticN6], [N7, arcticN7], [N8, arcticN8], [N9, arcticN9],
      [P1, arcticP1], [P2, arcticP2], [P3, arcticP3], [P4, arcticP4], [P5, arcticP5], [P6, arcticP6], [P7, arcticP7], [P8, arcticP8], [P9, arcticP9],
    ];
    const antFills: [string, Poly[]][] = [
      [N1, antN1], [N2, antN2], [N3, antN3], [N4, antN4], [N5, antN5], [N6, antN6], [N7, antN7], [N8, antN8],
      [P1, antP1], [P2, antP2], [P3, antP3], [P4, antP4], [P5, antP5],
    ];
    const colorbarSeries = {
      type: "custom", xAxisIndex: 4, yAxisIndex: 8, z: 2, silent: true,
      data: [...colorbarColors.map((_, i) => [i, 0]), [19, 0]],
      renderItem: (params: any, api: any) => {
        const i = params.dataIndex;
        if (i === colorbarColors.length) {
          const a = api.coord([0, 1]), b = api.coord([19, 0]);
          return { type: "rect", shape: { x: a[0], y: a[1], width: b[0] - a[0], height: b[1] - a[1] }, style: { fill: "none", stroke: "#000", lineWidth: 4 } };
        }
        const a = api.coord([i, 1]), b = api.coord([i + 1, 0]);
        return { type: "rect", shape: { x: a[0], y: a[1], width: b[0] - a[0], height: b[1] - a[1] }, style: { fill: colorbarColors[i], stroke: "#000", lineWidth: 2 } };
      },
    };
    const labelTicks = colorbarLabels.map((_, i) => i + 1);
    chart.setOption({
      animation: false,
      backgroundColor: "#fff",
      title: [
        { text: "U 10hPa, Arctic SI loss", left: 1381, top: 10, textAlign: "center", textStyle: { fontFamily: FONT, fontSize: 72, fontWeight: "normal", color: "#000" } },
        { text: "U 10hPa, Antarctic SI loss", left: 1381, top: 899, textAlign: "center", textStyle: { fontFamily: FONT, fontSize: 72, fontWeight: "normal", color: "#000" } },
      ],
      grid: [
        { left: 343, top: 175, width: 2089, height: 522 },
        { left: 343, top: 1065, width: 2089, height: 522 },
        { left: 405.5, top: 1886, width: 1963, height: 60 },
      ],
      xAxis: [
        ...xAxes(0, arcticMonths),
        ...xAxes(1, antarcticMonths),
        {
          gridIndex: 2, type: "value", min: 0, max: 19, interval: 1, position: "bottom",
          axisLine: { show: false }, axisTick: { show: false }, splitLine: { show: false },
          axisLabel: { show: true, customValues: labelTicks, margin: 15, color: "#000", fontFamily: FONT, fontSize: 25, lineHeight: 24, formatter: (v: number) => colorbarLabels[Math.round(v) - 1] },
        },
      ],
      yAxis: [
        ...yAxes(0, 10, 90, [30, 60, 90], [20, 40, 50, 70, 80]),
        ...yAxes(1, -90, -10, [-90, -60, -30], [-80, -70, -50, -40, -20]),
        { gridIndex: 2, type: "value", min: 0, max: 1, show: false },
      ],
      series: [
        ...panelSeries(arcticFills, arcticZero, arcticPos, arcticNeg, 1.3, lattice(arcticStipple, arcticStippleAnchor), arcticMarkerLat, 0, 0),
        ...panelSeries(antFills, antZero, antPos, antNeg, 1.2, lattice(antStipple, antStippleAnchor), antMarkerLat, 2, 4),
        colorbarSeries,
      ],
    });
    return () => chart.dispose();
  }, []);
  return <div ref={ref} style={{ width: 2515, height: 1986 }} />;
}
